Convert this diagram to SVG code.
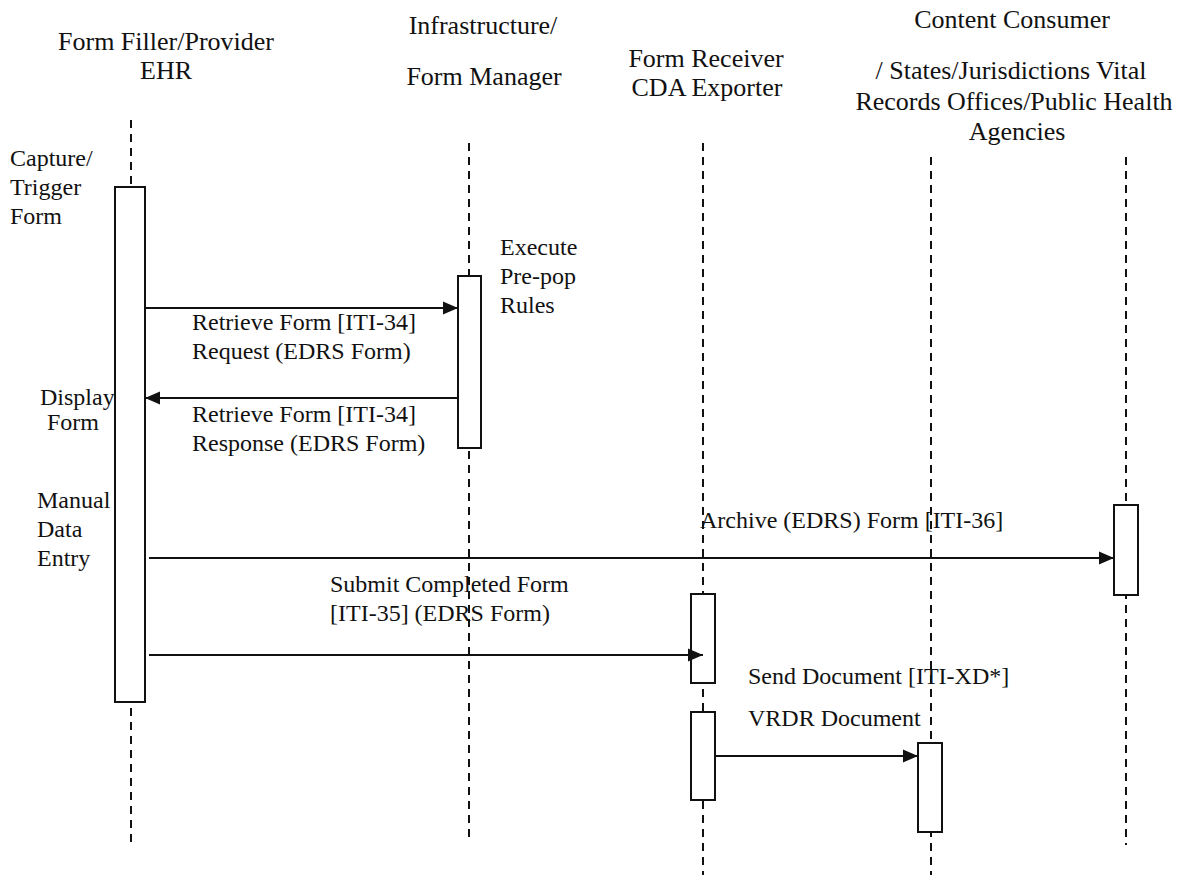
<svg xmlns="http://www.w3.org/2000/svg" width="1190" height="875" viewBox="0 0 1190 875">
<defs>
<style>
text{font-family:"Liberation Serif","Times New Roman",serif;font-size:24px;fill:#111}
text.h{font-size:26px;text-anchor:middle}
.life{stroke:#111;stroke-width:2;stroke-dasharray:8,6;fill:none}
.act{fill:#fff;stroke:#111;stroke-width:2}
.msg{stroke:#111;stroke-width:2;fill:none;marker-end:url(#ah)}
</style>
<marker id="ah" markerWidth="15" markerHeight="14" viewBox="0 0 15 14" refX="15" refY="7" orient="auto" markerUnits="userSpaceOnUse">
<path d="M0,0.5 L15,7 L0,13.5 Z" fill="#111"/>
</marker>
</defs>
<rect width="1190" height="875" fill="#fff"/>
<g id="lifelines">
<line class="life" x1="131" y1="120" x2="131" y2="845"/>
<line class="life" x1="469" y1="143" x2="469" y2="838"/>
<line class="life" x1="703" y1="143" x2="703" y2="875"/>
<line class="life" x1="931" y1="157" x2="931" y2="875"/>
<line class="life" x1="1126" y1="157" x2="1126" y2="845"/>
</g>
<g id="node-filler">
<text class="h" x="166" y="50">Form Filler/Provider</text>
<text class="h" x="166" y="79">EHR</text>
<rect class="act" x="115" y="187" width="30" height="515"/>
<text x="10" y="166">Capture/</text>
<text x="10" y="195">Trigger</text>
<text x="10" y="224">Form</text>
<text x="40" y="405">Display</text>
<text x="47" y="430">Form</text>
<text x="37" y="508">Manual</text>
<text x="37" y="537">Data</text>
<text x="37" y="566">Entry</text>
</g>
<g id="node-manager">
<text class="h" x="483" y="34">Infrastructure/</text>
<text class="h" x="484" y="85">Form Manager</text>
<rect class="act" x="458" y="276" width="23" height="172"/>
<text x="500" y="255">Execute</text>
<text x="500" y="284">Pre-pop</text>
<text x="500" y="313">Rules</text>
</g>
<g id="node-receiver">
<text class="h" x="706" y="67">Form Receiver</text>
<text class="h" x="707" y="96">CDA Exporter</text>
<rect class="act" x="691" y="594" width="24" height="89"/>
<rect class="act" x="691" y="712" width="24" height="88"/>
</g>
<g id="node-consumer">
<text class="h" x="1012" y="28">Content Consumer</text>
<text class="h" x="1011" y="79">/ States/Jurisdictions Vital</text>
<text class="h" x="1014" y="110">Records Offices/Public Health</text>
<text class="h" x="1017" y="140">Agencies</text>
<rect class="act" x="918" y="743" width="24" height="89"/>
</g>
<g id="node-archive">
<rect class="act" x="1114" y="505" width="24" height="90"/>
</g>
<g id="connectors">
<line class="msg" x1="145" y1="308" x2="458" y2="308"/>
<line class="msg" x1="458" y1="398" x2="145" y2="398"/>
<line class="msg" x1="149" y1="558" x2="1114" y2="558"/>
<line class="msg" x1="149" y1="655" x2="703" y2="655"/>
<line class="msg" x1="715" y1="756" x2="918" y2="756"/>
</g>
<g id="labels">
<text x="192" y="330">Retrieve Form [ITI-34]</text>
<text x="192" y="359">Request (EDRS Form)</text>
<text x="192" y="422">Retrieve Form [ITI-34]</text>
<text x="192" y="451">Response (EDRS Form)</text>
<text x="700" y="528">Archive (EDRS) Form [ITI-36]</text>
<text x="330" y="592">Submit Completed Form</text>
<text x="330" y="621">[ITI-35] (EDRS Form)</text>
<text x="748" y="684">Send Document [ITI-XD*]</text>
<text x="748" y="726">VRDR Document</text>
</g>
</svg>
